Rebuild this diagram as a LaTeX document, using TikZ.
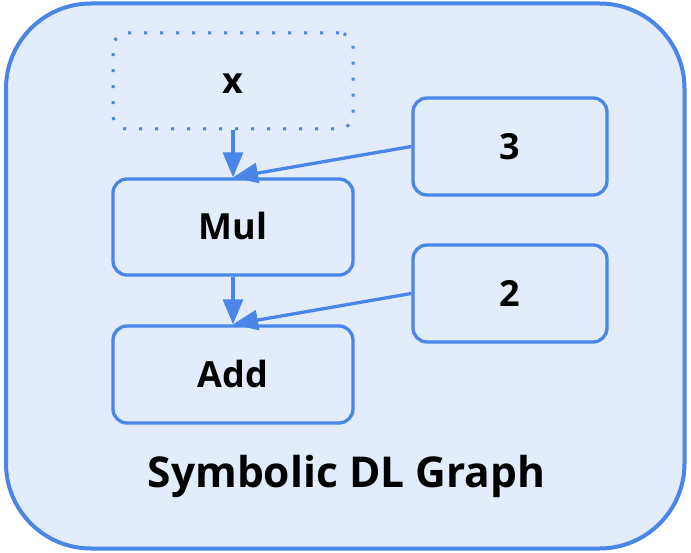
\documentclass[tikz,border=0pt]{standalone}
\usepackage{fontspec}
\setmainfont{Open Sans}
\usetikzlibrary{arrows.meta}

\definecolor{edgeblue}{HTML}{4A86E8}
\definecolor{panelfill}{HTML}{E3ECFA}

\tikzset{
  panel/.style={draw=edgeblue, fill=panelfill, line width=4pt, rounded corners=85pt},
  opbox/.style={draw=edgeblue, line width=3.3pt, rounded corners=14pt,
    minimum width=240pt, minimum height=96pt, inner sep=0pt,
    font=\fontsize{36}{42}\selectfont\bfseries, text height=26pt, text depth=0pt},
  inputbox/.style={opbox, line width=3pt, line cap=butt,
    dash pattern=on 3pt off 13pt},
  constbox/.style={opbox, minimum width=194pt, minimum height=97pt},
  link/.style={draw=edgeblue, line width=3.3pt,
    -{Triangle[length=25pt, width=20pt]}, shorten >=0pt},
  caption/.style={font=\fontsize{42.5}{48}\selectfont\bfseries, anchor=base, inner sep=0pt}
}

\begin{document}
\begin{tikzpicture}[x=1pt, y=-1pt]
  \useasboundingbox (0,0) rectangle (691,553);
  \path[panel] (6,3.5) rectangle (684.5,548.5);

  % operation chain
  \node[inputbox] (x) at (233,81) {x};
  \node[opbox] (mul) at (233,227) {Mul};
  \node[opbox, minimum height=97pt] (add) at (233,374.5) {Add};

  % constants
  \node[constbox] (three) at (510,146.5) {3};
  \node[constbox] (two) at (510,293.5) {2};

  % data flow
  \draw[link] (x.south) -- (mul.north);
  \draw[link] (three.west) -- (mul.north);
  \draw[link] (mul.south) -- (add.north);
  \draw[link] (two.west) -- (add.north);

  \node[caption] (title) at (346.5,487) {Symbolic DL Graph};
\end{tikzpicture}
\end{document}
